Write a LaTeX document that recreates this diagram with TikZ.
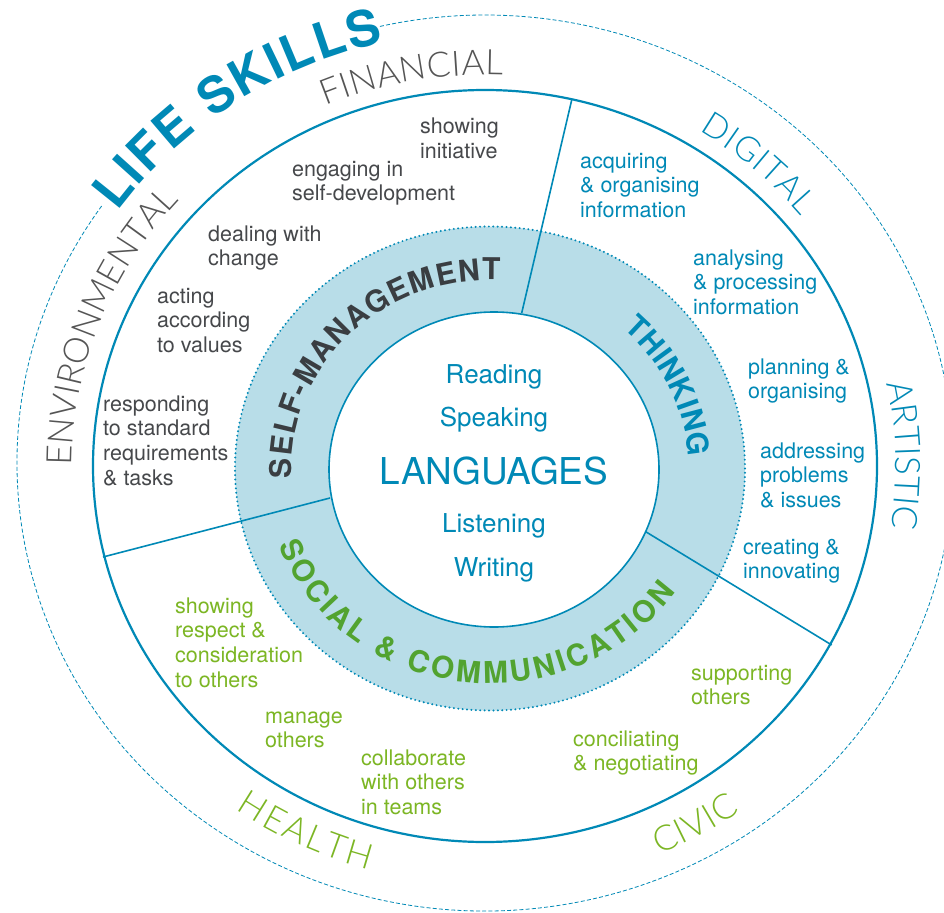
\documentclass[tikz,border=0pt]{standalone}
\usepackage{fontspec}
\setmainfont{TeX Gyre Heros}
\newfontfamily\thinfont{Lato Light}
\usepackage{xcolor}
\usetikzlibrary{decorations.text}

\definecolor{lsblue}{RGB}{0,137,182}
\definecolor{lsring}{RGB}{184,221,232}
\definecolor{lsgrey}{RGB}{70,72,75}
\definecolor{lsdark}{RGB}{58,62,66}
\definecolor{lsgreen}{RGB}{124,182,36}
\definecolor{lsdeepgreen}{RGB}{82,163,48}
\definecolor{lsthin}{RGB}{85,85,85}

\begin{document}
\begin{tikzpicture}[x=1pt,y=1pt,
    item/.style={anchor=base west, align=left, inner sep=0pt,
      font=\fontsize{21.5}{24.7}\selectfont},
    core/.style={anchor=base, inner sep=0pt, text=lsblue,
      font=\fontsize{26}{26}\selectfont},
    arclabel/.style 2 args={decorate, decoration={text along path,
      text={|#1|#2}, text align={fit to path}}}]
    \useasboundingbox (0,0) rectangle (944,-912);
    \fill[white] (0,0) rectangle (944,-912);

    \coordinate (out) at (485,-463);
    \coordinate (mid) at (485,-466);
    \coordinate (ring) at (490,-468.5);
    \coordinate (core) at (494,-469.5);

    % circles
    \draw[lsblue, line width=0.8, dash pattern=on 4pt off 2.2pt]
      (out) ++(145:468 and 448) arc[start angle=145, end angle=463, x radius=468, y radius=448];
    \draw[lsblue, line width=2.2] (mid) ellipse[x radius=392, y radius=376];
    \filldraw[fill=lsring, draw=lsblue, line width=2.2, line cap=round, dash pattern=on 0pt off 4.4pt]
      (ring) ellipse[x radius=255, y radius=242];
    \filldraw[fill=white, draw=lsblue, line width=1.6] (core) ellipse[x radius=165, y radius=157.5];

    % dividers
    \coordinate (tA) at (521.7,-313);
    \coordinate (tB) at (571.7,-100);
    \coordinate (lA) at (330,-498);
    \coordinate (lB) at (103,-557);
    \coordinate (rA) at (645.7,-531.7);
    \coordinate (rB) at (831.7,-645);
    \draw[lsblue, line width=1.6] (tA) -- (tB) (lA) -- (lB) (rA) -- (rB);

    % ring labels
    \path[arclabel={\fontsize{30}{30}\selectfont\bfseries\color{lsdark}}{SELF-MANAGEMENT}]
      (ring) ++(183:198.7 and 188.5) arc[start angle=183, end angle=87, x radius=198.7, y radius=188.5];
    \path[arclabel={\fontsize{30}{30}\selectfont\bfseries\color{lsblue}}{THINKING}]
      (ring) ++(48:198.7 and 188.5) arc[start angle=48, end angle=3.5, x radius=198.7, y radius=188.5];
    \path[arclabel={\fontsize{30}{30}\selectfont\bfseries\color{lsdeepgreen}}{SOCIAL {\&} COMMUNICATION}]
      (ring) ++(201:226.6 and 215) arc[start angle=201, end angle=325, x radius=226.6, y radius=215];
    \path[arclabel={\fontsize{50}{50}\selectfont\bfseries\color{lsblue}}{LIFE SKILLS}]
      (out) ++(144.5:451.5 and 432) arc[start angle=144.5, end angle=103, x radius=451.5, y radius=432];

    % outer labels
    \path[arclabel={\thinfont\fontsize{35}{35}\selectfont\color{lsthin}}{FINANCIAL}]
      (mid) ++(113:407.8 and 391) arc[start angle=113, end angle=87.5, x radius=407.8, y radius=391];
    \path[arclabel={\thinfont\fontsize{34}{34}\selectfont\color{lsblue}}{DIGITAL}]
      (mid) ++(58.5:409.9 and 393) arc[start angle=58.5, end angle=39.5, x radius=409.9, y radius=393];
    \path[arclabel={\thinfont\fontsize{35}{35}\selectfont\color{lsblue}}{ARTISTIC}]
      (mid) ++(12.1:410.9 and 394) arc[start angle=12.1, end angle=-8.6, x radius=410.9, y radius=394];
    \path[arclabel={\thinfont\fontsize{35}{35}\selectfont\color{lsthin}}{ENVIRONMENTAL}]
      (mid) ++(180:413 and 396) arc[start angle=180, end angle=139, x radius=413, y radius=396];
    \path[arclabel={\thinfont\fontsize{35}{35}\selectfont\color{lsgreen}}{HEALTH}]
      (mid) ++(235.2:436.6 and 418.6) arc[start angle=235.2, end angle=254.6, x radius=436.6, y radius=418.6];
    \path[arclabel={\thinfont\fontsize{35}{35}\selectfont\color{lsgreen}}{CIVIC}]
      (mid) ++(293.3:441.2 and 423) arc[start angle=293.3, end angle=305.3, x radius=441.2, y radius=423];

    % languages
    \node[core] (reading) at (494,-383) {Reading};
    \node[core] (speaking) at (494,-426) {Speaking};
    \node[core, font=\fontsize{37}{37}\selectfont] (languages) at (494,-484) {LANGUAGES};
    \node[core] (listening) at (494,-532) {Listening};
    \node[core] (writing) at (494,-576) {Writing};

    % self-management (anchored on the last line)
    \node[item, text=lsgrey] (initiative) at (420,-158.7) {showing\\initiative};
    \node[item, text=lsgrey] (selfdev) at (292,-200.7) {engaging in\\self-development};
    \node[item, text=lsgrey] (change) at (208,-265.7) {dealing with\\change};
    \node[item, text=lsgrey] (values) at (157,-352.4) {acting\\according\\to values};
    \node[item, text=lsgrey] (tasks) at (103,-485.1) {responding\\to standard\\requirements\\\& tasks};

    % thinking
    \node[item, text=lsblue] (acquiring) at (580,-217.4) {acquiring\\\& organising\\information};
    \node[item, text=lsblue] (analysing) at (693,-314.4) {analysing\\\& processing\\information};
    \node[item, text=lsblue] (planning) at (748,-398.7) {planning \&\\organising};
    \node[item, text=lsblue] (problems) at (760,-507.4) {addressing\\problems\\\& issues};
    \node[item, text=lsblue] (creating) at (743,-578.7) {creating \&\\innovating};

    % social & communication
    \node[item, text=lsgreen] (respect) at (175,-687.1) {showing\\respect \&\\consideration\\to others};
    \node[item, text=lsgreen] (manage) at (265,-747.7) {manage\\others};
    \node[item, text=lsgreen] (collaborate) at (361,-814.4) {collaborate\\with others\\in teams};
    \node[item, text=lsgreen] (supporting) at (691,-704.7) {supporting\\others};
    \node[item, text=lsgreen] (conciliating) at (573,-770.7) {conciliating\\\& negotiating};
\end{tikzpicture}
\end{document}
